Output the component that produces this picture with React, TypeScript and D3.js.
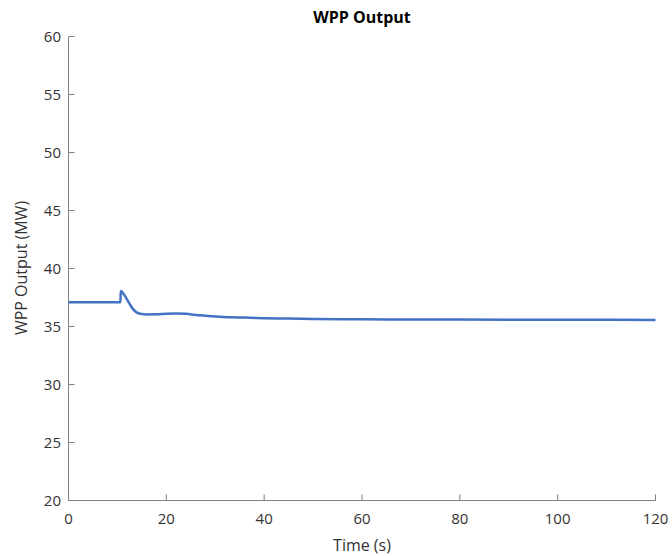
import React from "react";
import * as d3 from "d3";

const timeS = [0, 10.6, 10.7, 11.2, 11.8, 12.5, 13.2, 14.0, 15.0, 16.0, 18.0, 20.0, 22.0, 24.0, 26.0, 28.0, 30.0, 33.0, 36.0, 40.0, 45.0, 50.0, 60.0, 70.0, 80.0, 100.0, 120.0];
const outputMW = [37.1, 37.1, 38.05, 37.85, 37.45, 36.95, 36.5, 36.2, 36.07, 36.04, 36.05, 36.1, 36.12, 36.1, 36.0, 35.93, 35.87, 35.8, 35.77, 35.72, 35.68, 35.65, 35.62, 35.61, 35.6, 35.58, 35.57];
const xTicks = [0, 20, 40, 60, 80, 100, 120];
const yTicks = [20, 25, 30, 35, 40, 45, 50, 55, 60];

const W = 672, H = 556;
const left = 68.5, right = 655.5, top = 36.5, bottom = 500.5;
const font = "'Open Sans', 'Liberation Sans', sans-serif";

export default function App() {
  const x = d3.scaleLinear().domain([0, 120]).range([left, right]);
  const y = d3.scaleLinear().domain([20, 60]).range([bottom, top]);
  const pts: [number, number][] = timeS.map((t, i) => [t, outputMW[i]]);
  const line = d3.line<[number, number]>().x(d => x(d[0])).y(d => y(d[1])).curve(d3.curveMonotoneX);
  const axisColor = "#7f7f7f";
  const textColor = "#333";
  return (
    <svg width={W} height={H} style={{ position: "absolute", left: 0, top: 0, background: "#fff" }}>
      <text x={362} y={23} textAnchor="middle" fontFamily={font} fontSize={16} fontWeight="bold" fill="#000">WPP Output</text>
      <line x1={left} x2={left} y1={top} y2={bottom} stroke={axisColor} strokeWidth={1} />
      <line x1={left} x2={right} y1={bottom} y2={bottom} stroke={axisColor} strokeWidth={1} />
      {yTicks.map(v => (
        <g key={"y" + v}>
          <line x1={left} x2={left + 6} y1={y(v)} y2={y(v)} stroke={axisColor} strokeWidth={1} />
          <text x={61} y={y(v)} dy="0.35em" textAnchor="end" fontFamily={font} fontSize={15} fill={textColor}>{v}</text>
        </g>
      ))}
      {xTicks.map(v => (
        <g key={"x" + v}>
          <line x1={x(v)} x2={x(v)} y1={bottom} y2={bottom - 6} stroke={axisColor} strokeWidth={1} />
          <text x={x(v)} y={524} textAnchor="middle" fontFamily={font} fontSize={15} fill={textColor}>{v}</text>
        </g>
      ))}
      <text x={362} y={551} textAnchor="middle" fontFamily={font} fontSize={16} fill={textColor}>Time (s)</text>
      <text transform={`translate(27, 268) rotate(-90)`} textAnchor="middle" fontFamily={font} fontSize={16} fill={textColor}>WPP Output (MW)</text>
      <path d={line(pts) || ""} fill="none" stroke="#4472C4" strokeWidth={2.5} strokeLinejoin="round" />
    </svg>
  );
}
